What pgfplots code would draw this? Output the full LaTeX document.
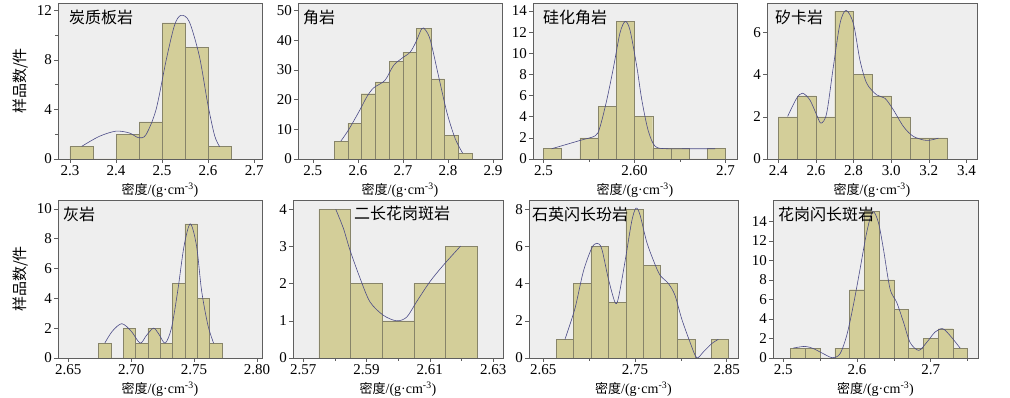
\documentclass[border=0pt]{standalone}
\usepackage{fontspec}
\setmainfont{Liberation Serif}
\newfontfamily\cjk{Noto Sans CJK SC}
\usepackage{pgfplots}
\pgfplotsset{compat=1.18}
\definecolor{bggray}{RGB}{238,238,238}
\definecolor{barfill}{RGB}{211,206,153}
\definecolor{baredge}{RGB}{135,132,105}
\definecolor{curvecol}{RGB}{75,75,135}
\definecolor{axisgray}{RGB}{95,95,95}
\pgfplotsset{
  hist/.style={
    scale only axis, ymin=0,
    axis background/.style={fill=bggray},
    axis line style={draw=axisgray, line width=0.7pt},
    tick style={draw=axisgray, line width=0.5pt},
    tick align=outside,
    major tick length=4pt, minor tick length=3pt,
    xtick pos=left, ytick pos=left,
    tick label style={font=\fontsize{15}{15}\selectfont},
    xticklabel style={inner sep=2pt},
    yticklabel style={inner sep=2pt},
    /pgf/number format/assume math mode=true,
    xlabel={{\cjk\fontsize{13}{13}\selectfont 密度}/(g·cm\textsuperscript{-3})},
    every axis x label/.style={at={(axis description cs:0.5,0)}, anchor=center, yshift=-31pt, font=\fontsize{14}{14}\selectfont},
  },
  bars/.style={ybar interval, fill=barfill, draw=baredge, line width=0.4pt},
  dens/.style={smooth, color=curvecol, line width=0.6pt},
  ylab/.style={ylabel={\cjk 样品数/件}, every axis y label/.style={at={(axis description cs:-0.186,0.5)}, rotate=90, anchor=center, font=\fontsize{15}{15}\selectfont}},
}
\newcommand\ttl[2]{\node[anchor=north west, inner sep=0pt, font=\cjk\fontsize{16}{16}\selectfont] at ([xshift=#1pt, yshift=-7pt]rel axis cs:0,1) {#2};}
\begin{document}
\begin{tikzpicture}
\path[use as bounding box] (0,0) rectangle (1010pt,398pt);
% ---------- row 1 ----------
\begin{axis}[hist, ylab, at={(58pt,239pt)}, width=204pt, height=156pt,
  xmin=2.274, xmax=2.717, ymax=12.6,
  xtick={2.3,2.4,2.5,2.6,2.7}, xticklabels={2.3,2.4,2.5,2.6,2.7},
  ytick={0,4,8,12}, minor ytick={2,6,10}]
\addplot[bars] coordinates {(2.30,1) (2.35,0) (2.40,2) (2.45,3) (2.50,11) (2.55,9) (2.60,1) (2.65,0)};
\addplot[dens] coordinates {(2.3254,1.02) (2.3638,1.83) (2.40,2.25) (2.429,2.1) (2.449,1.72) (2.465,1.96) (2.487,4.0) (2.509,8.0) (2.527,10.8) (2.541,11.6) (2.559,11.1) (2.581,8.3) (2.599,4.5) (2.614,1.9) (2.625,1.0)};
\ttl{11}{炭质板岩}
\end{axis}
\begin{axis}[hist, at={(298pt,239pt)}, width=204pt, height=156pt,
  xmin=2.467, xmax=2.92, ymax=52.6,
  xtick={2.5,2.6,2.7,2.8,2.9}, xticklabels={2.5,2.6,2.7,2.8,2.9},
  ytick={0,10,20,30,40,50}]
\addplot[bars] coordinates {(2.548,6) (2.578,12) (2.607,22) (2.638,26) (2.670,33) (2.700,36) (2.730,44) (2.762,27) (2.792,8) (2.823,2) (2.853,0)};
\addplot[dens] coordinates {(2.562,6) (2.58,10) (2.605,16.7) (2.62,21) (2.635,24) (2.66,26.5) (2.679,31.5) (2.698,34) (2.716,36) (2.729,39.5) (2.742,44) (2.75,43.5) (2.761,40) (2.779,28) (2.798,15.5) (2.816,6.9) (2.8325,2)};
\ttl{5}{角岩}
\end{axis}
\begin{axis}[hist, at={(533pt,239pt)}, width=204pt, height=156pt,
  xmin=2.4885, xmax=2.7126, ymax=14.75,
  xtick={2.5,2.6,2.7}, xticklabels={2.5,2.60,2.7}, minor xtick={2.55,2.65},
  ytick={0,2,4,6,8,10,12,14}]
\addplot[bars] coordinates {(2.50,1) (2.52,0) (2.54,2) (2.56,5) (2.58,13) (2.60,4) (2.62,1) (2.64,1) (2.66,0) (2.68,1) (2.70,0)};
\addplot[dens] coordinates {(2.509,0.97) (2.540,1.75) (2.557,2.2) (2.562,3.0) (2.5696,5.6) (2.577,8.7) (2.584,11.9) (2.5897,13.0) (2.595,12.2) (2.6026,8.7) (2.608,5.6) (2.615,2.7) (2.6227,1.2) (2.6355,0.97) (2.66,0.97) (2.6886,0.97)};
\ttl{10}{硅化角岩}
\end{axis}
\begin{axis}[hist, at={(767pt,239pt)}, width=210pt, height=156pt,
  xmin=2.34, xmax=3.456, ymax=7.4,
  xtick={2.4,2.6,2.8,3.0,3.2,3.4}, xticklabels={2.4,2.6,2.8,3.0,3.2,3.4},
  ytick={0,2,4,6}]
\addplot[bars] coordinates {(2.4,2) (2.5,3) (2.6,2) (2.7,7) (2.8,4) (2.9,3) (3.0,2) (3.1,1) (3.2,1) (3.3,0)};
\addplot[dens] coordinates {(2.4497,2.02) (2.4975,2.88) (2.529,3.12) (2.568,2.8) (2.604,2.09) (2.627,1.7) (2.657,2.17) (2.6926,4.38) (2.728,6.43) (2.76,7.05) (2.799,6.43) (2.834,4.69) (2.87,3.59) (2.923,3.04) (2.967,2.88) (3.0117,2.33) (3.065,1.54) (3.118,1.07) (3.189,0.88) (3.251,0.99)};
\ttl{8}{矽卡岩}
\end{axis}
% ---------- row 2 ----------
\begin{axis}[hist, ylab, at={(58pt,40pt)}, width=204pt, height=158pt,
  xmin=2.6418, xmax=2.804, ymax=10.6,
  xtick={2.65,2.70,2.75,2.80}, xticklabels={2.65,2.70,2.75,2.80},
  ytick={0,2,4,6,8,10}]
\addplot[bars] coordinates {(2.674,1) (2.6838,0) (2.6936,2) (2.7034,1) (2.7132,2) (2.723,1) (2.7328,5) (2.7426,9) (2.7524,4) (2.7622,1) (2.772,0)};
\addplot[dens] coordinates {(2.679,1.0) (2.685,1.8) (2.6925,2.3) (2.70,1.8) (2.7071,1.0) (2.712,1.5) (2.7177,2.0) (2.722,1.6) (2.727,1.0) (2.732,2.0) (2.737,4.5) (2.742,7.5) (2.747,9.0) (2.752,7.5) (2.756,4.5) (2.761,2.2) (2.7655,1.0)};
\ttl{5}{灰岩}
\end{axis}
\begin{axis}[hist, at={(293pt,40pt)}, width=210pt, height=158pt,
  xmin=2.5668, xmax=2.6331, ymax=4.25,
  xtick={2.57,2.59,2.61,2.63}, xticklabels={2.57,2.59,2.61,2.63}, minor xtick={2.58,2.60,2.62},
  ytick={0,1,2,3,4}]
\addplot[bars] coordinates {(2.575,4) (2.585,2) (2.595,1) (2.605,2) (2.615,3) (2.625,0)};
\addplot[dens] coordinates {(2.5803,4.0) (2.5827,3.49) (2.5848,2.9) (2.588,2.14) (2.5911,1.51) (2.5953,1.15) (2.5995,1.0) (2.6027,1.1) (2.6058,1.51) (2.61,2.05) (2.6143,2.5) (2.6197,3.01)};
\node[anchor=north, inner sep=0pt, font=\cjk\fontsize{16}{16}\selectfont] at ([xshift=4pt, yshift=-6pt]rel axis cs:0.5,1) {二长花岗斑岩};
\end{axis}
\begin{axis}[hist, at={(529pt,40pt)}, width=209pt, height=158pt,
  xmin=2.6344, xmax=2.8624, ymax=8.5,
  xtick={2.65,2.75,2.85}, xticklabels={2.65,2.75,2.85}, minor xtick={2.70,2.80},
  ytick={0,2,4,6,8}]
\addplot[bars] coordinates {(2.664,1) (2.683,4) (2.702,6) (2.721,3) (2.740,8) (2.759,5) (2.778,4) (2.796,1) (2.8155,0) (2.8336,1) (2.852,0)};
\addplot[dens] coordinates {(2.6736,1.0) (2.6845,2.66) (2.6936,4.64) (2.7027,5.9) (2.7082,6.17) (2.7136,5.9) (2.7209,4.28) (2.7282,3.0) (2.7318,3.2) (2.7391,5.18) (2.7464,7.34) (2.7511,8.06) (2.7555,7.7) (2.7627,6.26) (2.7707,5.18) (2.7773,4.46) (2.7864,4.01) (2.7936,3.38) (2.8009,2.12) (2.81,0.86) (2.8173,0.02) (2.8245,0.32) (2.8336,0.77) (2.8409,1.0)};
\ttl{3}{石英闪长玢岩}
\end{axis}
\begin{axis}[hist, at={(773pt,40pt)}, width=205pt, height=158pt,
  xmin=2.486, xmax=2.7642, ymax=16.2,
  xtick={2.5,2.6,2.7}, xticklabels={2.5,2.6,2.7}, minor xtick={2.55,2.65,2.75},
  ytick={0,2,4,6,8,10,12,14}]
\addplot[bars] coordinates {(2.51,1) (2.53,1) (2.55,0) (2.57,1) (2.59,7) (2.61,15) (2.63,8) (2.65,5) (2.67,1) (2.69,2) (2.71,3) (2.73,1) (2.75,0)};
\addplot[dens] coordinates {(2.5136,1.02) (2.5295,1.19) (2.5408,0.96) (2.5543,0.44) (2.567,0.02) (2.577,0.44) (2.586,2.3) (2.595,5.4) (2.6041,9.1) (2.6132,12.9) (2.6213,15.0) (2.629,13.9) (2.6358,11.2) (2.6448,7.1) (2.6539,5.7) (2.663,3.7) (2.672,1.6) (2.6838,0.78) (2.6946,1.6) (2.7059,2.66) (2.7163,3.0) (2.7263,2.3) (2.7399,1.02)};
\ttl{5}{花岗闪长斑岩}
\end{axis}
\end{tikzpicture}
\end{document}
